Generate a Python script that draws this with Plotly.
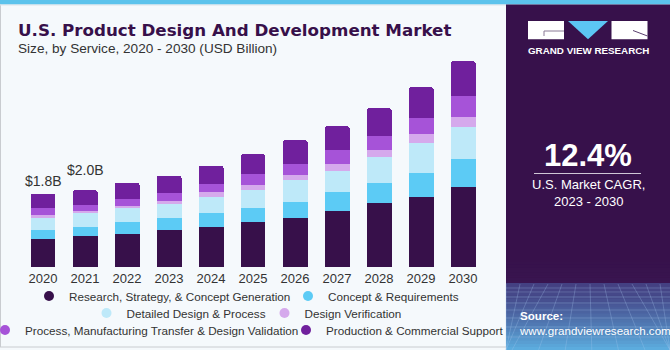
import plotly.graph_objects as go

# ---------------- data ----------------
years = ["2020", "2021", "2022", "2023", "2024", "2025", "2026", "2027", "2028", "2029", "2030"]
research = [0.69, 0.76, 0.81, 0.92, 0.98, 1.10, 1.22, 1.38, 1.57, 1.73, 1.98]
concept = [0.23, 0.22, 0.30, 0.28, 0.35, 0.35, 0.39, 0.47, 0.51, 0.58, 0.68]
detailed = [0.29, 0.35, 0.34, 0.36, 0.40, 0.45, 0.54, 0.52, 0.63, 0.75, 0.79]
verification = [0.07, 0.06, 0.06, 0.08, 0.12, 0.13, 0.11, 0.17, 0.17, 0.23, 0.25]
process = [0.17, 0.15, 0.17, 0.19, 0.21, 0.26, 0.29, 0.35, 0.35, 0.40, 0.52]
production = [0.35, 0.35, 0.40, 0.42, 0.43, 0.49, 0.58, 0.58, 0.69, 0.75, 0.86]

series_names = [
    "Research, Strategy, & Concept Generation",
    "Concept & Requirements",
    "Detailed Design & Process",
    "Design Verification",
    "Process, Manufacturing Transfer & Design Validation",
    "Production & Commercial Support",
]
series_values = [research, concept, detailed, verification, process, production]
series_colors = ["#37104a", "#5ccbf5", "#bee9f9", "#d5a9ec", "#a653d8", "#70209d"]

label_years = ["2020", "2021"]
label_texts = ["$1.8B", "$2.0B"]

cagr_text = "12.4%"
cagr_caption = "U.S. Market CAGR,<br>2023 - 2030"
title_text = "U.S. Product Design And Development Market"
subtitle_text = "Size, by Service, 2020 - 2030 (USD Billion)"

# ---------------- geometry helpers ----------------
W, H = 670, 350
PL, PR, PT, PB = 22, 484, 55, 267   # plot area in pixels
PX_PER_UNIT = 40.5
FONT = "Liberation Sans, Arial, sans-serif"
TITLE_FONT = "DejaVu Sans, Liberation Sans, sans-serif"

# legend entry placement (pixels): left edge of each entry box, row centre, indentation
legend_keys = ["legend", "legend2", "legend3", "legend4", "legend5", "legend6"]
legend_left = [29, 288, 86.5, 264.5, 0, 286]
legend_row = [296, 296, 313, 313, 330, 330]
legend_indent = [0, 0, 0, 0, -15, 0]


def X(px):
    return px / W


def Y(py):
    return (H - py) / H


fig = go.Figure()

for name, vals, col in zip(series_names, series_values, series_colors):
    fig.add_trace(go.Bar(
        x=years, y=vals, name=name, marker_color=col,
        marker_line_width=0, showlegend=False, hoverinfo="skip",
    ))

for name, col, lg in zip(series_names, series_colors, legend_keys):
    fig.add_trace(go.Scatter(
        x=[years[0]], y=[None], mode="markers", name=name, legend=lg,
        marker=dict(color=col, size=10, symbol="circle"), hoverinfo="skip",
    ))

totals = [sum(v) for v in zip(*series_values)]

shapes = []
annotations = []


def rect(x0, x1, y0, y1, color, layer="above"):
    shapes.append(dict(type="rect", xref="paper", yref="paper", x0=X(x0), x1=X(x1), y0=Y(y0), y1=Y(y1),
                       fillcolor=color, line_width=0, layer=layer))


def line(x0, x1, y0, y1, color, width=1):
    shapes.append(dict(type="line", xref="paper", yref="paper", x0=X(x0), x1=X(x1), y0=Y(y0), y1=Y(y1),
                       line=dict(color=color, width=width), layer="above"))


# top strip and borders of the left area
rect(0, 670, 0, 4.5, "#5cc3ec")
line(0.5, 0.5, 4.5, 347, "#c9ccd0")
line(0, 506, 5, 5, "#dde3e8")

# right panel
rect(506, 670, 4.5, 350, "#37114b")
n1 = 8
for i in range(n1):
    a = 0.02 + 0.06 * i / (n1 - 1)
    rect(506, 670, 262 + i * (21 / n1), 262 + (i + 1) * (21 / n1), f"rgba(90,80,150,{a:.3f})")
n2 = 22
c0 = (68, 64, 130)
c1 = (92, 172, 222)
for i in range(n2):
    t = (i / (n2 - 1)) ** 1.3
    c = tuple(int(c0[k] + (c1[k] - c0[k]) * t) for k in range(3))
    rect(506, 670, 283 + i * (67 / n2), min(350, 283 + (i + 1) * (67 / n2) + 0.6), f"rgb{c}")
grid_col = "rgba(170,200,240,0.28)"
for gy in [288, 292, 297, 303, 310, 318, 327, 337]:
    line(506, 670, gy, gy, grid_col)
for k in range(0, 12):
    xt = 506 + k * 14
    xb = 588 + (xt - 588) * 1.9
    xb = min(max(xb, 506), 670)
    line(xt, xb, 284, 350, grid_col)
line(0, 506, 347, 347, "#c9ccd0")

# logo
rect(528, 564, 21, 39.3, "white")
rect(611.5, 647.5, 21, 39.3, "white")
tri = f"M {X(568)},{Y(21)} L {X(608)},{Y(21)} L {X(588)},{Y(39.3)} Z"
shapes.append(dict(type="path", xref="paper", yref="paper", path=tri, fillcolor="#5cc6f4", line_width=0,
                   layer="above"))
line(544, 564, 31, 31, "#8a7a96")
line(544, 544, 31, 36, "#8a7a96")
line(633, 647.5, 30.5, 36, "#5a3f6e")
# CAGR underline
line(534, 641, 173.5, 173.5, "#cfc6d6", 1.2)

annotations.append(dict(xref="paper", yref="paper", x=X(588), y=Y(50.5), text="<b>GRAND VIEW RESEARCH</b>",
                        showarrow=False, xanchor="center", yanchor="middle",
                        font=dict(family=FONT, size=9.8, color="white")))
annotations.append(dict(xref="paper", yref="paper", x=X(588), y=Y(155), text=f"<b>{cagr_text}</b>",
                        showarrow=False, xanchor="center", yanchor="middle",
                        font=dict(family=FONT, size=31, color="white")))
annotations.append(dict(xref="paper", yref="paper", x=X(588), y=Y(192.5), text=cagr_caption,
                        showarrow=False, xanchor="center", yanchor="middle", align="center",
                        font=dict(family=FONT, size=13, color="white")))
annotations.append(dict(xref="paper", yref="paper", x=X(517), y=Y(322.5),
                        text="<b>Source:</b><br>www.grandviewresearch.com",
                        showarrow=False, xanchor="left", yanchor="middle", align="left",
                        font=dict(family=FONT, size=11.6, color="white")))

# titles
annotations.append(dict(xref="paper", yref="paper", x=X(16), y=Y(29.5), text=f"<b>{title_text}</b>",
                        showarrow=False, xanchor="left", yanchor="middle",
                        font=dict(family=TITLE_FONT, size=16.7, color="#37104a")))
annotations.append(dict(xref="paper", yref="paper", x=X(16), y=Y(48.5), text=subtitle_text,
                        showarrow=False, xanchor="left", yanchor="middle",
                        font=dict(family=FONT, size=13.6, color="#333333")))

# value labels (category axis: position by category index)
label_shift = [3, 10]
for yr, txt, sh in zip(label_years, label_texts, label_shift):
    idx = years.index(yr)
    annotations.append(dict(x=idx, y=totals[idx], xref="x", yref="y", text=txt, showarrow=False,
                            xanchor="center", yanchor="bottom", yshift=sh,
                            font=dict(family=FONT, size=14, color="#333333")))

legend_common = dict(orientation="h", xanchor="left", yanchor="middle", bgcolor="rgba(0,0,0,0)",
                     traceorder="normal", borderwidth=0,
                     font=dict(family=FONT, size=11.7, color="#333333"), itemclick=False,
                     itemdoubleclick=False)
legend_layout = {}
for key, lx, ly, ind in zip(legend_keys, legend_left, legend_row, legend_indent):
    legend_layout[key] = dict(x=X(lx), y=Y(ly), indentation=ind, **legend_common)

fig.update_layout(
    width=W, height=H,
    margin=dict(l=0, r=0, t=0, b=0, pad=0, autoexpand=False),
    paper_bgcolor="#f5f9fc", plot_bgcolor="#f5f9fc",
    barmode="stack", bargap=0.405,
    font=dict(family=FONT, color="#333333"),
    xaxis=dict(type="category", categoryorder="array", categoryarray=years,
               range=[-0.5, len(years) - 0.5], domain=[X(PL), X(PR)],
               showgrid=False, zeroline=False, showline=False, ticks="", ticklabelstandoff=2,
               tickfont=dict(family=FONT, size=13, color="#333333"), fixedrange=True),
    yaxis=dict(range=[0, (PB - PT) / PX_PER_UNIT], domain=[Y(PB), Y(PT)], visible=False, fixedrange=True),
    shapes=shapes,
    annotations=annotations,
    barcornerradius=2,
    **legend_layout,
)

fig.write_html("out.html", config={"displayModeBar": False})
